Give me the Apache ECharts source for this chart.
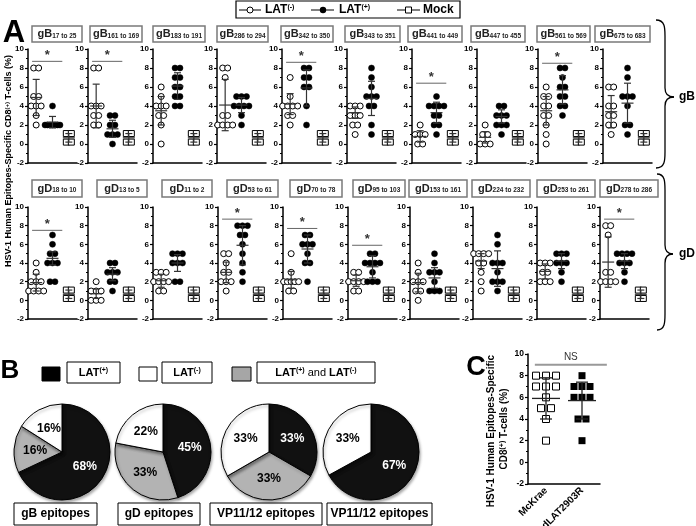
<!DOCTYPE html>
<html>
<head>
<meta charset="utf-8">
<script src="https://cdn.jsdelivr.net/npm/echarts@6/dist/echarts.min.js"></script>
<style>html,body{margin:0;padding:0;background:#fff}#c{width:696px;height:526px}</style>
</head>
<body>
<div id="c"></div>
<script>
const FONT = '"Liberation Sans", Arial, Helvetica, sans-serif';

// ---------------- DATA ----------------
const groupNames = ['LAT(-)', 'LAT(+)', 'Mock'];
const gbEpitopes = ['17 to 25','161 to 169','183 to 191','286 to 294','342 to 350','343 to 351','441 to 449','447 to 455','561 to 569','675 to 683'];
const gdEpitopes = ['18 to 10','13 to 5','11 to 2','53 to 61','70 to 78','95 to 103','153 to 161','224 to 232','253 to 261','278 to 286'];

const gbNeg = [
  [8,8,5,5,4,4,4,3,2],
  [8,8,4,4,4,3,3,2,2],
  [6,5,4,4,4,3,3,2,0],
  [8,8,7,3,3,2,2,2,2],
  [7,5,4,4,4,4,3,3,2],
  [4,4,4,3,3,3,2,2,1],
  [2,1,1,1,0,0],
  [2,1,1,0,0,0],
  [6,5,5,4,4,3,3,2,1,0],
  [6,6,4,4,3,3,2,2,1]
];
const gbPos = [
  [4,2,2,2,2,2,2,2],
  [3,3,2,2,1,1,1,0],
  [8,8,7,7,6,6,5,5,4,4],
  [5,5,5,4,4,4,4,3,2],
  [8,8,7,7,6,6,4,2],
  [8,7,6,5,5,5,4,4,2,1],
  [5,4,4,4,4,3,3,2,2,1],
  [4,4,3,3,3,2,2,2,1],
  [8,8,7,6,6,5,5,4,4,3],
  [8,7,5,5,5,4,2,2,1]
];
// [mean, sd]
const gbNegStats = [[4.9,1.9],[4.0,2.3],[3.5,1.5],[4.1,2.7],[4.2,1.1],[3.3,0.6],[0.8,0.6],[0.7,0.6],[3.5,1.5],[3.4,1.7]];
const gbPosStats = [[2.3,0.6],[1.6,0.9],[6.1,1.4],[4.1,0.8],[5.9,1.9],[4.8,1.8],[3.3,1.1],[2.9,0.7],[5.7,1.5],[4.3,2.1]];
const gbStar = [8.7,8.7,null,null,8.6,null,6.4,null,8.5,null];

const gdNeg = [
  [4,3,2,2,2,1,1,1,1],
  [2,1,1,1,0,0,0],
  [3,3,3,2,2,2,2,1,1],
  [5,5,4,3,3,2,2,2,1],
  [5,3,2,2,2,2,2,1,1],
  [3,3,2,2,2,2,1,1],
  [4,3,2,2,2,1,1,0],
  [5,5,5,5,4,4,3,2,1],
  [4,4,4,3,3,2,2,2],
  [8,8,7,3,3,2,2,2,2]
];
const gdPos = [
  [7,6,5,5,4,4,4,2,2],
  [4,4,3,3,3,2,2,1],
  [5,5,5,4,4,4,2,2],
  [8,8,8,7,7,6,5,4,3,2],
  [7,7,6,6,6,5,4,4,2],
  [5,5,4,4,4,4,3,2,2,2],
  [5,4,3,3,3,2,1,1,1],
  [7,6,4,4,4,3,2,2,2,1],
  [5,5,5,4,4,4,3,2],
  [5,5,5,5,4,4,4,3,2]
];
const gdNegStats = [[1.9,0.9],[0.7,0.5],[2.1,0.7],[3.0,1.1],[2.2,0.9],[2.1,0.6],[1.9,1.0],[4.2,0.8],[3.1,0.8],[4.1,2.7]];
const gdPosStats = [[4.5,0.7],[2.8,0.7],[4.0,0.9],[5.9,2.1],[5.5,1.5],[3.6,1.2],[2.4,1.1],[3.4,1.9],[4.2,0.8],[4.2,0.8]];
const gdStar = [7.5,null,null,8.7,7.7,5.9,null,null,null,8.7];

const mockVals = [1.1,1.1,0.2,0.2];
const mockStats = [0.65,0.45];

const yTickMin = -2, yTickMax = 10, yTickStep = 2;

const pieTitles = ['gB epitopes','gD epitopes','VP11/12 epitopes','VP11/12 epitopes'];
const pieLatPos = [68,45,33,67];
const pieBoth   = [16,33,33,0];
const pieLatNeg = [16,22,33,33];

const cCategories = ['McKrae','dLAT2903R'];
const cMcKrae = [8,8,8,7,7,7,6,5,5,4,2];
const cDlat = [8,7,7,7,6,6,6,4,4,2];
const cStats = [[5.9,1.9],[5.7,1.7]];
const cSigLabel = 'NS';
const cSigY = 9.0;

// ---------------- LAYOUT ----------------
const row1Axis = [28,88,153,217,282,347,412,477,538,603];
const row2Axis = [28,88,153,218,283,348,410,473,537,600];
const row1Box = [[32,82],[90,142],[153,205],[217,268],[281,333],[345,400],[408,462],[471,525],[537,590],[595,650]];
const row2Box = [[32,82],[97,147],[162,212],[227,278],[290,342],[353,405],[409,467],[472,530],[537,595],[600,658]];
const PW = 49;

const chart = echarts.init(document.getElementById('c'), null, {renderer:'canvas', width:696, height:526});
const option = {animation:false, backgroundColor:'#ffffff', textStyle:{fontFamily:FONT}, grid:[], xAxis:[], yAxis:[], series:[], graphic:[]};
const G = option.graphic;

function swarm(vals, center, stepPx, maxPx, ppu) {
  const counts = {}, seen = {};
  vals.forEach(v => counts[v] = (counts[v] || 0) + 1);
  return vals.map(v => {
    const n = counts[v];
    const k = seen[v] = (seen[v] === undefined ? 0 : seen[v] + 1);
    const s = n > 1 ? Math.min(stepPx, maxPx / (n - 1)) / ppu : 0;
    return [center + (k - (n - 1) / 2) * s, v];
  });
}
function errRender(meanHalf, capHalf, color, lw) {
  return function (params, api) {
    const x = api.value(0), m = api.value(1), sd = api.value(2);
    const c = api.coord([x, m]), t = api.coord([x, m + sd]), b = api.coord([x, m - sd]);
    const st = {stroke: color, lineWidth: lw};
    return {type: 'group', children: [
      {type: 'line', shape: {x1: c[0], y1: t[1], x2: c[0], y2: b[1]}, style: st},
      {type: 'line', shape: {x1: c[0] - capHalf, y1: t[1], x2: c[0] + capHalf, y2: t[1]}, style: st},
      {type: 'line', shape: {x1: c[0] - capHalf, y1: b[1], x2: c[0] + capHalf, y2: b[1]}, style: st},
      {type: 'line', shape: {x1: c[0] - meanHalf, y1: c[1], x2: c[0] + meanHalf, y2: c[1]}, style: st}
    ]};
  };
}
function sigRender(label, lineColor, lw, fs, gap, weight) {
  return function (params, api) {
    const a = api.coord([api.value(0), api.value(2)]);
    const b = api.coord([api.value(1), api.value(2)]);
    return {type: 'group', children: [
      {type: 'line', shape: {x1: a[0], y1: a[1], x2: b[0], y2: b[1]}, style: {stroke: lineColor, lineWidth: lw}},
      {type: 'text', x: (a[0] + b[0]) / 2, y: a[1] - gap, style: {text: label, fill: '#333', fontSize: fs, fontWeight: weight, fontFamily: FONT, align: 'center', verticalAlign: 'middle'}}
    ]};
  };
}
function yAxisCfg(gi, fs) {
  return {type: 'value', gridIndex: gi, min: yTickMin, max: yTickMax, interval: yTickStep,
    axisLine: {show: true, onZero: false, lineStyle: {color: '#000', width: 1.5}},
    axisTick: {show: true, length: 3, lineStyle: {color: '#000', width: 1.2}},
    minorTick: {show: true, splitNumber: 2, length: 2, lineStyle: {color: '#000', width: 1}},
    splitLine: {show: false}, minorSplitLine: {show: false},
    axisLabel: {fontSize: fs, fontWeight: 'bold', color: '#000', margin: 4, fontFamily: FONT}};
}
function addPanel(left, top, height, neg, pos, negSt, posSt, star) {
  const gi = option.grid.length;
  option.grid.push({left: left, top: top, width: PW, height: height, outerBoundsMode: 'none', containLabel: false});
  const xi = option.xAxis.length;
  option.xAxis.push({type: 'category', gridIndex: gi, data: groupNames, boundaryGap: true,
    axisLine: {onZero: false, lineStyle: {color: '#000', width: 1.5}},
    axisTick: {alignWithLabel: true, interval: 0, length: 3, lineStyle: {color: '#000', width: 1.2}},
    axisLabel: {show: false, interval: 0}, splitLine: {show: false}});
  option.xAxis.push({type: 'value', gridIndex: gi, min: 0.5, max: 3.5, show: false});
  option.yAxis.push(yAxisCfg(gi, 8));
  const ppu = PW / 3;
  const base = {xAxisIndex: xi + 1, yAxisIndex: gi, silent: true};
  option.series.push(Object.assign({type: 'scatter', name: groupNames[0], data: swarm(neg, 1, 5, 15, ppu), symbol: 'circle', symbolSize: 6,
    itemStyle: {color: '#fff', borderColor: '#000', borderWidth: 1, opacity: 1}, z: 2}, base));
  option.series.push(Object.assign({type: 'scatter', name: groupNames[1], data: swarm(pos, 2, 5, 15, ppu), symbol: 'circle', symbolSize: 6,
    itemStyle: {color: '#000', borderColor: '#000', borderWidth: 0.5, opacity: 1}, z: 2}, base));
  option.series.push(Object.assign({type: 'scatter', name: groupNames[2], data: swarm(mockVals, 3, 5, 15, ppu), symbol: 'rect', symbolSize: 6,
    itemStyle: {color: '#fff', borderColor: '#000', borderWidth: 1, opacity: 1}, z: 2}, base));
  option.series.push(Object.assign({type: 'custom', renderItem: errRender(6, 3.5, '#333', 1.2),
    data: [[1, negSt[0], negSt[1]], [2, posSt[0], posSt[1]], [3, mockStats[0], mockStats[1]]], z: 3}, base));
  if (star !== null) {
    option.series.push(Object.assign({type: 'custom', renderItem: sigRender('*', '#666', 1, 13, 6, 'bold'),
      data: [[0.75, 2.6, star]], z: 3}, base));
  }
}
function titleBox(x1, x2, y, h, main, sub) {
  G.push({type: 'rect', silent: true, shape: {x: x1, y: y, width: x2 - x1, height: h}, style: {fill: '#fff', stroke: '#7a7a7a', lineWidth: 1.5}});
  G.push({type: 'text', silent: true, x: (x1 + x2) / 2, y: y + h / 2, style: {text: main + '{s|' + sub + '}', fill: '#222', fontFamily: FONT, fontSize: 11, fontWeight: 'bold', align: 'center', verticalAlign: 'middle',
    rich: {s: {fontSize: 6.5, fontWeight: 'bold', fill: '#222', fontFamily: FONT, verticalAlign: 'bottom'}}}});
}

for (let i = 0; i < 10; i++) {
  addPanel(row1Axis[i], 49, 114, gbNeg[i], gbPos[i], gbNegStats[i], gbPosStats[i], gbStar[i]);
  titleBox(row1Box[i][0], row1Box[i][1], 26, 16, 'gB', gbEpitopes[i]);
}
for (let i = 0; i < 10; i++) {
  addPanel(row2Axis[i], 207, 112, gdNeg[i], gdPos[i], gdNegStats[i], gdPosStats[i], gdStar[i]);
  titleBox(row2Box[i][0], row2Box[i][1], 180, 17, 'gD', gdEpitopes[i]);
}

// ---- Panel C ----
(function () {
  const gi = option.grid.length;
  const W = 72;
  option.grid.push({left: 528, top: 354, width: W, height: 130, outerBoundsMode: 'none', containLabel: false});
  const xi = option.xAxis.length;
  option.xAxis.push({type: 'category', gridIndex: gi, data: cCategories, boundaryGap: true,
    axisLine: {onZero: false, lineStyle: {color: '#000', width: 1.5}},
    axisTick: {alignWithLabel: true, interval: 0, length: 3, lineStyle: {color: '#000', width: 1.2}},
    axisLabel: {interval: 0, rotate: 45, fontSize: 10, fontWeight: 'bold', color: '#000', margin: 5, fontFamily: FONT}, splitLine: {show: false}});
  option.xAxis.push({type: 'value', gridIndex: gi, min: 0.5, max: 2.5, show: false});
  option.yAxis.push(yAxisCfg(gi, 8.5));
  const ppu = W / 2;
  const base = {xAxisIndex: xi + 1, yAxisIndex: gi, silent: true};
  option.series.push(Object.assign({type: 'scatter', name: cCategories[0], data: swarm(cMcKrae, 1, 10, 22, ppu), symbol: 'rect', symbolSize: 7,
    itemStyle: {color: '#fff', borderColor: '#000', borderWidth: 1, opacity: 1}, z: 2}, base));
  option.series.push(Object.assign({type: 'scatter', name: cCategories[1], data: swarm(cDlat, 2, 8, 18, ppu), symbol: 'rect', symbolSize: 7,
    itemStyle: {color: '#000', opacity: 1}, z: 2}, base));
  option.series.push(Object.assign({type: 'custom', renderItem: errRender(14, 6, '#222', 1.3),
    data: [[1, cStats[0][0], cStats[0][1]], [2, cStats[1][0], cStats[1][1]]], z: 3}, base));
  option.series.push(Object.assign({type: 'custom', renderItem: sigRender(cSigLabel, '#999', 2, 10, 8, 'normal'),
    data: [[0.69, 2.69, cSigY]], z: 3}, base));
})();

// ---- Panel B pies ----
const pieCx = [62, 163, 269, 371];
for (let i = 0; i < 4; i++) {
  const data = [
    {name: 'LAT(+)', value: pieLatPos[i], itemStyle: {color: '#111'}, label: {color: '#fff'}},
    {name: 'LAT(+) and LAT(-)', value: pieBoth[i], itemStyle: {color: '#b3b3b3'}},
    {name: 'LAT(-)', value: pieLatNeg[i], itemStyle: {color: '#fff'}}
  ].filter(d => d.value > 0);
  option.series.push({type: 'pie', center: [pieCx[i], 452], radius: 48, startAngle: 90, clockwise: true, silent: true,
    avoidLabelOverlap: false,
    label: {show: true, position: 'inside', formatter: '{c}%', fontSize: 12, fontWeight: 'bold', color: '#000', fontFamily: FONT},
    labelLine: {show: false},
    itemStyle: {borderColor: '#000', borderWidth: 1, shadowBlur: 3, shadowColor: 'rgba(0,0,0,0.35)', shadowOffsetX: 1, shadowOffsetY: 2},
    data: data});
}
const pieBox = [[14,97],[118,200],[210,322],[327,432]];
pieBox.forEach((b, i) => {
  G.push({type: 'rect', silent: true, shape: {x: b[0], y: 503, width: b[1] - b[0], height: 22}, style: {fill: '#fff', stroke: '#000', lineWidth: 1}});
  G.push({type: 'text', silent: true, x: (b[0] + b[1]) / 2, y: 514, style: {text: pieTitles[i], fill: '#000', fontFamily: FONT, fontSize: 12, fontWeight: 'bold', align: 'center', verticalAlign: 'middle'}});
});

// ---- Legends / labels / braces ----
const supRich = {s: {fontSize: 7, fontWeight: 'bold', fill: '#000', fontFamily: FONT, verticalAlign: 'top'},
                 n: {fontSize: 11, fontWeight: 'normal', fill: '#000', fontFamily: FONT}};
function txt(x, y, text, o) {
  return {type: 'text', silent: true, x: x, y: y, style: Object.assign({text: text, fill: '#000', fontFamily: FONT, fontSize: 12, fontWeight: 'bold', align: 'left', verticalAlign: 'middle', rich: supRich}, o || {})};
}
G.push({type: 'rect', silent: true, shape: {x: 236, y: 1, width: 224, height: 17}, style: {fill: '#fff', stroke: '#000', lineWidth: 1.2}});
G.push({type: 'line', silent: true, shape: {x1: 239, y1: 10, x2: 261, y2: 10}, style: {stroke: '#000', lineWidth: 1}});
G.push({type: 'circle', silent: true, shape: {cx: 250, cy: 10, r: 3}, style: {fill: '#fff', stroke: '#000', lineWidth: 1}});
G.push(txt(265, 10, 'LAT{s|(-)}'));
G.push({type: 'line', silent: true, shape: {x1: 311, y1: 10, x2: 334, y2: 10}, style: {stroke: '#000', lineWidth: 1}});
G.push({type: 'circle', silent: true, shape: {cx: 323, cy: 10, r: 3.2}, style: {fill: '#000'}});
G.push(txt(339, 10, 'LAT{s|(+)}'));
G.push({type: 'line', silent: true, shape: {x1: 397, y1: 10, x2: 420, y2: 10}, style: {stroke: '#000', lineWidth: 1}});
G.push({type: 'rect', silent: true, shape: {x: 405.5, y: 7, width: 6, height: 6}, style: {fill: '#fff', stroke: '#000', lineWidth: 1}});
G.push(txt(423, 10, 'Mock'));

G.push(txt(14, 33, 'A', {fontSize: 31, align: 'center'}));
G.push(txt(10, 371, 'B', {fontSize: 26, align: 'center'}));
G.push(txt(476, 368, 'C', {fontSize: 27, align: 'center'}));

G.push(Object.assign(txt(9, 161, 'HSV-1 Human Epitopes-Specific CD8{s|(+)} T-cells (%)', {fontSize: 9, align: 'center', rich: {s: {fontSize: 6, fontWeight: 'bold', fill: '#000', fontFamily: FONT, verticalAlign: 'top'}}}), {rotation: Math.PI / 2}));
G.push(Object.assign(txt(491, 431, 'HSV-1 Human Epitopes-Specific', {fontSize: 10, align: 'center'}), {rotation: Math.PI / 2}));
G.push(Object.assign(txt(504, 429, 'CD8{s|(+)} T-cells (%)', {fontSize: 10, align: 'center'}), {rotation: Math.PI / 2}));

function brace(x0, y0, ym, y1, d) {
  const st = {fill: 'none', stroke: '#000', lineWidth: 1.3};
  const xa = x0 + d, xt = x0 + 2 * d;
  return [
    {type: 'bezierCurve', silent: true, shape: {x1: x0, y1: y0, cpx1: xa, cpy1: y0, cpx2: xa, cpy2: y0 + 8, x2: xa, y2: y0 + 16}, style: st},
    {type: 'line', silent: true, shape: {x1: xa, y1: y0 + 16, x2: xa, y2: ym - 9}, style: st},
    {type: 'bezierCurve', silent: true, shape: {x1: xa, y1: ym - 9, cpx1: xa, cpy1: ym - 3, cpx2: xa + 3, cpy2: ym, x2: xt, y2: ym}, style: st},
    {type: 'bezierCurve', silent: true, shape: {x1: xt, y1: ym, cpx1: xa + 3, cpy1: ym, cpx2: xa, cpy2: ym + 3, x2: xa, y2: ym + 9}, style: st},
    {type: 'line', silent: true, shape: {x1: xa, y1: ym + 9, x2: xa, y2: y1 - 16}, style: st},
    {type: 'bezierCurve', silent: true, shape: {x1: xa, y1: y1 - 16, cpx1: xa, cpy1: y1 - 8, cpx2: xa, cpy2: y1, x2: x0, y2: y1}, style: st}
  ];
}
brace(656, 20, 97, 168, 9).forEach(e => G.push(e));
brace(657, 174, 254, 330, 8).forEach(e => G.push(e));
G.push(txt(679, 97, 'gB', {fontSize: 12}));
G.push(txt(679, 254, 'gD', {fontSize: 12}));

G.push({type: 'rect', silent: true, shape: {x: 42, y: 367, width: 18, height: 14}, style: {fill: '#000', stroke: '#000'}});
G.push({type: 'rect', silent: true, shape: {x: 67, y: 362, width: 53, height: 21}, style: {fill: '#fff', stroke: '#000', lineWidth: 1}});
G.push(txt(93.5, 372.5, 'LAT{s|(+)}', {fontSize: 11, align: 'center'}));
G.push({type: 'rect', silent: true, shape: {x: 139, y: 367, width: 18, height: 14}, style: {fill: '#fff', stroke: '#000', lineWidth: 1}});
G.push({type: 'rect', silent: true, shape: {x: 162, y: 362, width: 50, height: 21}, style: {fill: '#fff', stroke: '#000', lineWidth: 1}});
G.push(txt(187, 372.5, 'LAT{s|(-)}', {fontSize: 11, align: 'center'}));
G.push({type: 'rect', silent: true, shape: {x: 232, y: 367, width: 19, height: 14}, style: {fill: '#a6a6a6', stroke: '#000', lineWidth: 1}});
G.push({type: 'rect', silent: true, shape: {x: 257, y: 362, width: 118, height: 21}, style: {fill: '#fff', stroke: '#000', lineWidth: 1}});
G.push(txt(316, 372.5, 'LAT{s|(+)}{n| and }LAT{s|(-)}', {fontSize: 11, align: 'center'}));

chart.setOption(option);
</script>
</body>
</html>
